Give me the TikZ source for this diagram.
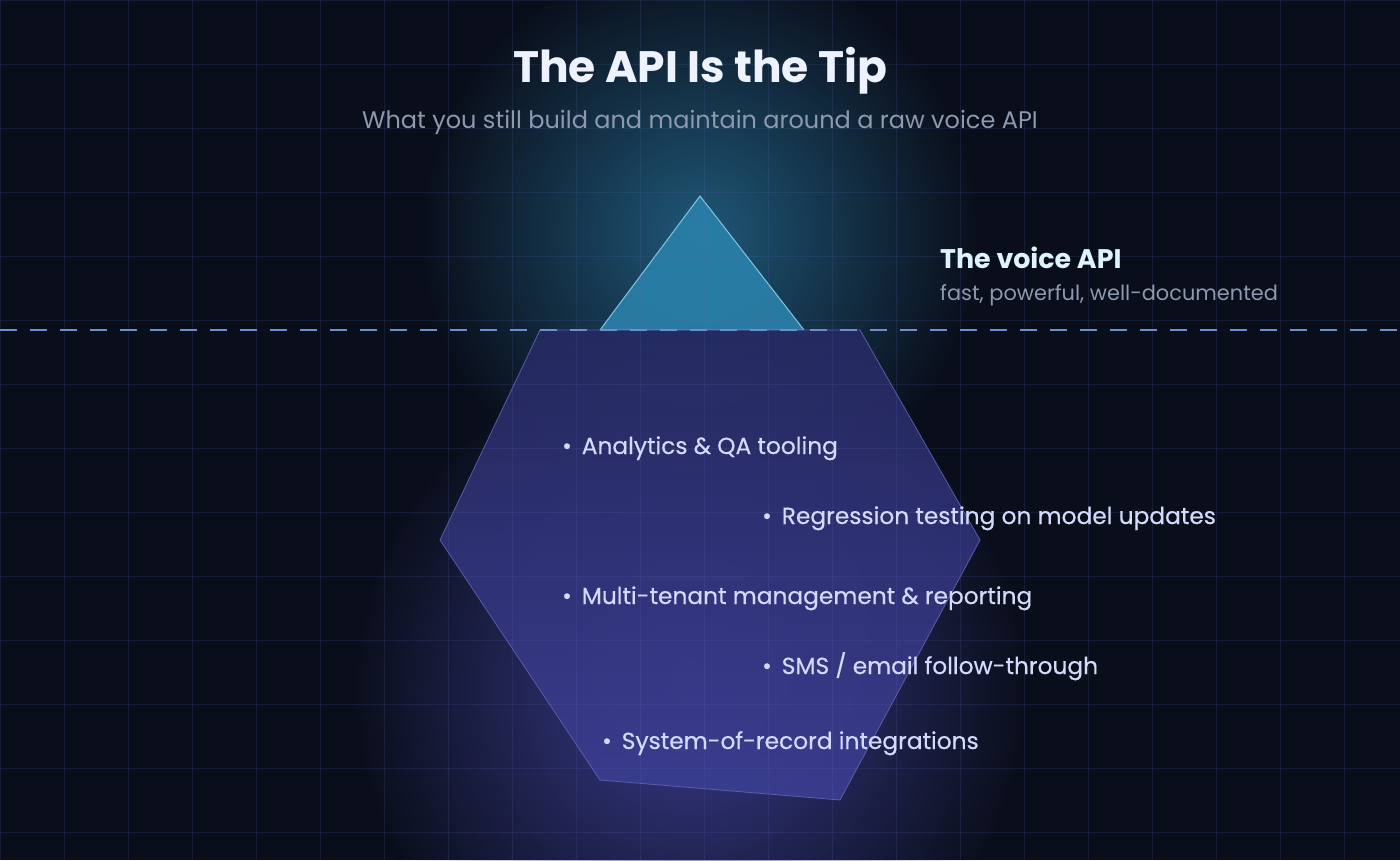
\documentclass[tikz,border=0pt]{standalone}
\usepackage{fontspec}
\setmainfont{Poppins}
\newfontfamily\itemfont{Poppins}[FakeBold=0.35]
\usetikzlibrary{fadings}

\definecolor{bgnavy}{HTML}{0A0E1A}
\definecolor{gridblue}{HTML}{6070C0}
\definecolor{glowteal}{HTML}{1F5878}
\definecolor{glowpurple}{HTML}{3A3C8E}
\definecolor{tipteal}{HTML}{2A80A8}
\definecolor{tipedge}{HTML}{8CCDE6}
\definecolor{bergtop}{HTML}{262A62}
\definecolor{bergbot}{HTML}{3C3E92}
\definecolor{bergedge}{HTML}{5E63B4}
\definecolor{waterblue}{HTML}{6F8FCC}
\definecolor{titletext}{HTML}{EEF2FF}
\definecolor{subtext}{HTML}{8D99AE}
\definecolor{apitext}{HTML}{DFF3FB}
\definecolor{itemtext}{HTML}{D4DAFC}

\tikzfading[name=glow fade, inner color=transparent!0, outer color=transparent!100]

\begin{document}
\begin{tikzpicture}[x=1pt,y=-1pt]

    % Styles
    \tikzset{
        gridline/.style={draw=gridblue, line width=1pt, opacity=0.15},
        tip/.style={fill=tipteal, draw=tipedge, line width=1pt, opacity=0.92},
        berg/.style={top color=bergtop, bottom color=bergbot, draw=bergedge, line width=0.8pt, opacity=0.9},
        waterline/.style={draw=waterblue, line width=1.5pt, dash pattern=on 17pt off 13pt},
        heading/.style={anchor=base, text=titletext, inner sep=0pt, font=\fontsize{44}{50}\selectfont\bfseries},
        subheading/.style={anchor=base, text=subtext, inner sep=0pt, font=\fontsize{24}{28}\selectfont},
        item/.style={anchor=base west, text=itemtext, inner sep=0pt, font=\fontsize{23.3}{27}\itemfont}
    }

    % Canvas
    \useasboundingbox (0,0) rectangle (1400,860);
    \fill[bgnavy] (0,0) rectangle (1400,860);

    % Glows behind the tip and the hidden part
    \fill[glowteal, path fading=glow fade] (700,235) circle (280);
    \fill[glowpurple, path fading=glow fade] (690,690) circle (340);

    % Coordinates
    \coordinate (apex) at (700,196);      % top of the tip
    \coordinate (tipL) at (600,330);
    \coordinate (tipR) at (804,330);
    \coordinate (bergTL) at (540,330);    % hidden part, clockwise
    \coordinate (bergTR) at (860,330);
    \coordinate (bergR) at (980,540);
    \coordinate (bergBR) at (840,800);
    \coordinate (bergBL) at (600,780);
    \coordinate (bergL) at (440,540);

    % Tip above the water
    \draw[tip] (tipL) -- (apex) -- (tipR) -- cycle;

    % Part below the water
    \shade[berg] (bergTL) -- (bergTR) -- (bergR) -- (bergBR) -- (bergBL) -- (bergL) -- cycle;

    % Water line
    \draw[waterline] (0,330) -- (1400,330);

    % Grid
    \foreach \x in {0,64,...,1400}
        \draw[gridline] (\x,0) -- (\x,860);
    \foreach \y in {0,64,...,860}
        \draw[gridline] (0,\y) -- (1400,\y);

    % Title
    \node[heading] (title) at (700,82) {The API Is the Tip};
    \node[subheading] (subtitle) at (700,128) {What you still build and maintain around a raw voice API};

    % Label for the tip
    \node[anchor=base west, inner sep=0pt, text=apitext, font=\fontsize{26.9}{31}\selectfont\bfseries] (api) at (940,268) {The voice API};
    \node[anchor=base west, inner sep=0pt, text=subtext, font=\fontsize{20.9}{25}\selectfont] (apinote) at (940,300) {fast, powerful, well-documented};

    % What sits below the water
    \node[item] (qa) at (562,454) {\textbullet\hspace{10pt}Analytics \& QA tooling};
    \node[item] (regress) at (762,524) {\textbullet\hspace{10pt}Regression testing on model updates};
    \node[item] (tenant) at (562,604) {\textbullet\hspace{10pt}Multi-tenant management \& reporting};
    \node[item] (sms) at (762,674) {\textbullet\hspace{10pt}SMS / email follow-through};
    \node[item] (record) at (602,749) {\textbullet\hspace{10pt}System-of-record integrations};

\end{tikzpicture}
\end{document}
